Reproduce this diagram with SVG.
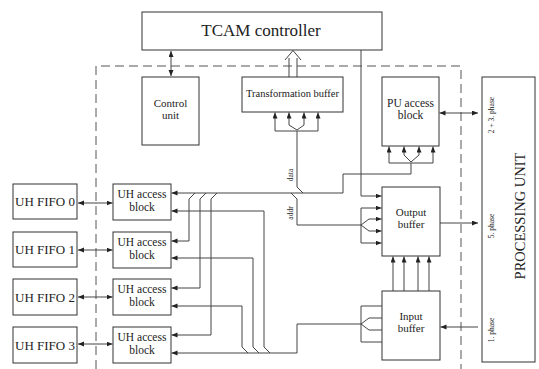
<svg xmlns="http://www.w3.org/2000/svg" width="539" height="369" viewBox="0 0 539 369">
<style>
.box{fill:#fff;stroke:#333;stroke-width:1}
.ln{fill:none;stroke:#444;stroke-width:1}
.ar{fill:none;stroke:#444;stroke-width:1;marker-end:url(#ah)}
.bi{fill:none;stroke:#444;stroke-width:1;marker-start:url(#ah);marker-end:url(#ah)}
.t{font-family:"Liberation Serif","Times New Roman",serif;fill:#222;text-anchor:middle}
.s{font-size:11px}
.sm{font-family:"Liberation Serif","Times New Roman",serif;fill:#222;font-size:7.5px;text-anchor:middle}
</style>
<defs>
<marker id="ah" markerUnits="userSpaceOnUse" markerWidth="7" markerHeight="6" refX="6" refY="2.5" orient="auto-start-reverse">
<path d="M0,0 L6,2.5 L0,5 z" fill="#222"/>
</marker>
</defs>
<rect width="539" height="369" fill="#fff"/>
<path d="M96,369 V66 H461 V369" fill="none" stroke="#555" stroke-width="1" stroke-dasharray="9 5"/>

<g id="connectors">
<!-- TCAM <-> control unit -->
<line class="bi" x1="171" y1="51" x2="171" y2="76"/>
<!-- transformation buffer up to TCAM -->
<line class="ln" x1="289" y1="77" x2="289" y2="58"/>
<line class="ln" x1="297" y1="77" x2="297" y2="58"/>
<polyline class="ln" points="285,60 293,50.5 301,60"/>
<!-- TCAM down to output buffer -->
<polyline class="ar" points="361,50 361,196 381.5,196"/>
<!-- fork into transformation buffer -->
<polyline class="ar" points="275,131 275,112.5"/>
<polyline class="ar" points="318,131 318,112.5"/>
<line class="ln" x1="275" y1="131" x2="318" y2="131"/>
<polyline class="ar" points="297,130 289,125 289,112.5"/>
<polyline class="ar" points="297,130 304,125 304,112.5"/>
<!-- data line -->
<polyline class="ln" points="297,131 297,187 303,193"/>
<!-- fork into PU access block -->
<polyline class="ar" points="389,163 389,146.5"/>
<polyline class="ar" points="433,163 433,146.5"/>
<line class="ln" x1="389" y1="163" x2="433" y2="163"/>
<polyline class="ar" points="411,162 404,155 404,146.5"/>
<polyline class="ar" points="411,162 419,155 419,146.5"/>
<!-- main top bus -->
<polyline class="ar" points="411,163 411,174 343,174 343,193 171.5,193"/>
<!-- taps to UH1..3 -->
<polyline class="ar" points="195,193 189,199 189,241 171.5,241"/>
<polyline class="ar" points="206,193 200,199 200,288 171.5,288"/>
<polyline class="ar" points="217,193 211,199 211,335 171.5,335"/>
<!-- addr -->
<polyline class="ln" points="291,193 297,199 297,225 361,225"/>
<!-- fork into output buffer -->
<line class="ln" x1="361" y1="208" x2="361" y2="243"/>
<line class="ar" x1="361" y1="208" x2="381.5" y2="208"/>
<line class="ar" x1="361" y1="243" x2="381.5" y2="243"/>
<polyline class="ar" points="361,225 369,219 381.5,219"/>
<polyline class="ar" points="361,225 369,231 381.5,231"/>
<!-- input buffer to output buffer -->
<line class="ar" x1="393" y1="291" x2="393" y2="256.5"/>
<line class="ar" x1="404" y1="291" x2="404" y2="256.5"/>
<line class="ar" x1="418" y1="291" x2="418" y2="256.5"/>
<line class="ar" x1="429" y1="291" x2="429" y2="256.5"/>
<!-- input buffer fork (left side) -->
<line class="ln" x1="361" y1="306" x2="361" y2="342"/>
<line class="ln" x1="361" y1="306" x2="382" y2="306"/>
<line class="ln" x1="361" y1="342" x2="382" y2="342"/>
<polyline class="ln" points="361,324 369,318 382,318"/>
<polyline class="ln" points="361,324 369,330 382,330"/>
<!-- bottom bus -->
<polyline class="ar" points="361,324 297,324 297,353 171.5,353"/>
<polyline class="ar" points="270,353 264,347 264,211 171.5,211"/>
<polyline class="ar" points="259,353 253,347 253,258 171.5,258"/>
<polyline class="ar" points="248,353 242,347 242,306 171.5,306"/>
<!-- FIFO <-> UH access -->
<line class="bi" x1="78" y1="203" x2="112.5" y2="203"/>
<line class="bi" x1="78" y1="250" x2="112.5" y2="250"/>
<line class="bi" x1="78" y1="297" x2="112.5" y2="297"/>
<line class="bi" x1="78" y1="344" x2="112.5" y2="344"/>
<!-- processing unit links -->
<line class="bi" x1="439.5" y1="113" x2="478" y2="113"/>
<line class="ar" x1="440" y1="223" x2="478" y2="223"/>
<line class="ar" x1="478" y1="327" x2="440.5" y2="327"/>
<!-- labels -->
<text class="sm" transform="translate(293,175) rotate(-90)">data</text>
<text class="sm" transform="translate(293,213) rotate(-90)">addr</text>
</g>

<g id="tcam">
<rect class="box" x="142" y="12" width="240" height="38"/>
<text class="t" x="261" y="36" font-size="17">TCAM controller</text>
</g>
<g id="control">
<rect class="box" x="142" y="77" width="57" height="68"/>
<text class="t s" x="170.5" y="107">Control</text>
<text class="t s" x="170.5" y="119">unit</text>
</g>
<g id="transform">
<rect class="box" x="242" y="77" width="101" height="35"/>
<text class="t" x="292.5" y="97" font-size="10.5">Transformation buffer</text>
</g>
<g id="pu-access">
<rect class="box" x="382" y="77" width="57" height="69"/>
<text class="t" x="410.5" y="107" font-size="11.5">PU access</text>
<text class="t" x="410.5" y="119" font-size="11.5">block</text>
</g>
<g id="output-buffer">
<rect class="box" x="382" y="187" width="58" height="69"/>
<text class="t s" x="411" y="216">Output</text>
<text class="t s" x="411" y="228">buffer</text>
</g>
<g id="input-buffer">
<rect class="box" x="382" y="291" width="58" height="69"/>
<text class="t s" x="411" y="320">Input</text>
<text class="t s" x="411" y="332">buffer</text>
</g>
<g id="processing-unit">
<rect class="box" x="482" y="77" width="53" height="285"/>
<text class="t" font-size="14.5" transform="translate(525,216) rotate(-90)">PROCESSING UNIT</text>
<text class="sm" transform="translate(494,115) rotate(-90)">2 + 3. phase</text>
<text class="sm" transform="translate(494,226) rotate(-90)">5. phase</text>
<text class="sm" transform="translate(494,330) rotate(-90)">1. phase</text>
</g>

<g id="fifo0"><rect class="box" x="13" y="184" width="64" height="35"/><text class="t" x="45" y="206" font-size="13">UH FIFO 0</text></g>
<g id="fifo1"><rect class="box" x="13" y="232" width="64" height="35"/><text class="t" x="45" y="254" font-size="13">UH FIFO 1</text></g>
<g id="fifo2"><rect class="box" x="13" y="279" width="64" height="36"/><text class="t" x="45" y="301.5" font-size="13">UH FIFO 2</text></g>
<g id="fifo3"><rect class="box" x="13" y="327" width="64" height="36"/><text class="t" x="45" y="349.5" font-size="13">UH FIFO 3</text></g>

<g id="uh0"><rect class="box" x="113" y="184" width="58" height="36"/><text class="t" x="142" y="198" font-size="11.5">UH access</text><text class="t" x="142" y="211" font-size="11.5">block</text></g>
<g id="uh1"><rect class="box" x="113" y="232" width="58" height="36"/><text class="t" x="142" y="246" font-size="11.5">UH access</text><text class="t" x="142" y="259" font-size="11.5">block</text></g>
<g id="uh2"><rect class="box" x="113" y="279" width="58" height="36"/><text class="t" x="142" y="293" font-size="11.5">UH access</text><text class="t" x="142" y="306" font-size="11.5">block</text></g>
<g id="uh3"><rect class="box" x="113" y="327" width="58" height="36"/><text class="t" x="142" y="341" font-size="11.5">UH access</text><text class="t" x="142" y="354" font-size="11.5">block</text></g>
</svg>
